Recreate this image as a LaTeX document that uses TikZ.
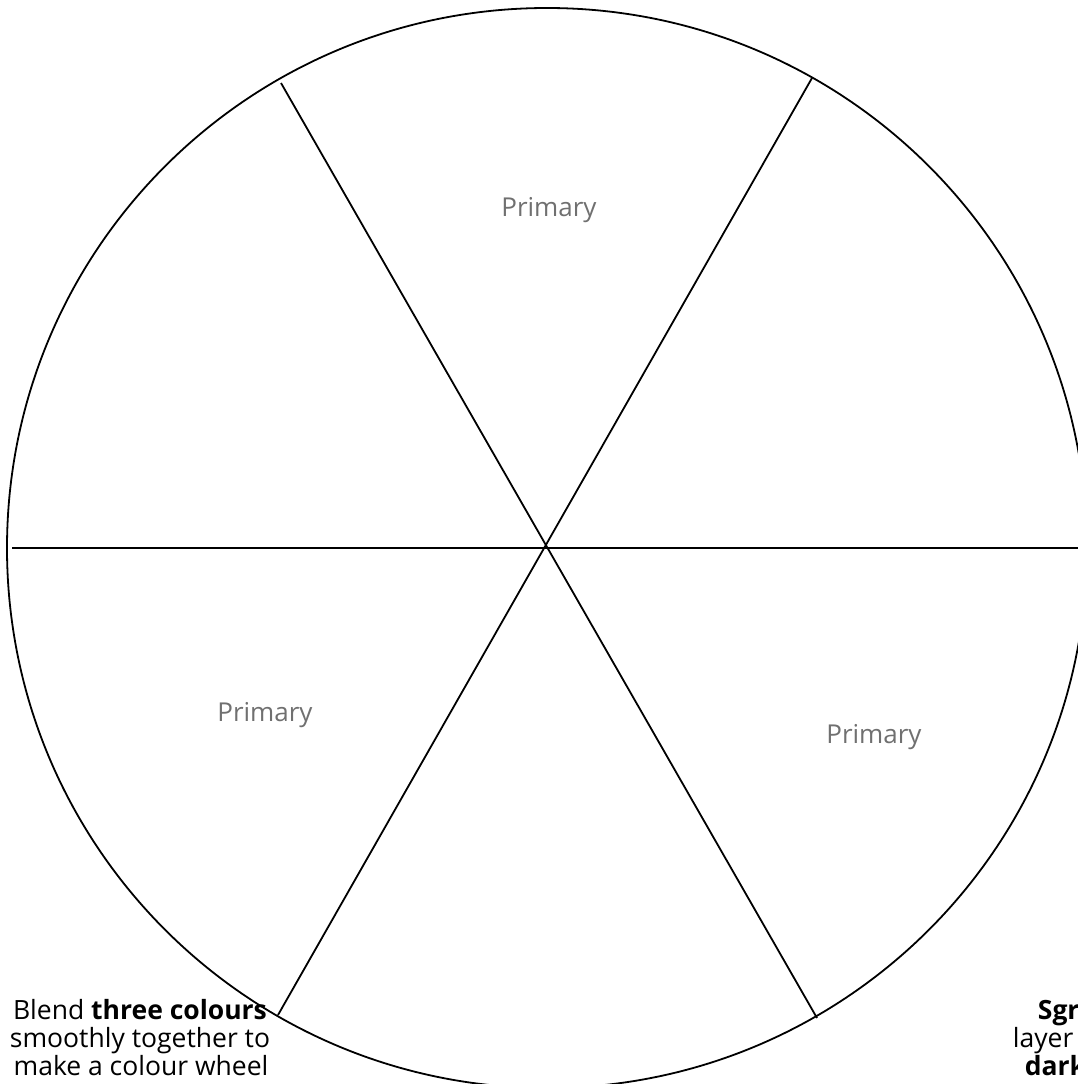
\documentclass[tikz,border=0pt]{standalone}
\usepackage{fontspec}
\setmainfont{Open Sans}
\usetikzlibrary{positioning}

\begin{document}
\begin{tikzpicture}[x=1pt, y=-1pt, line width=1.8pt,
    sector/.style={text=black!56, inner sep=0pt, anchor=base,
        font=\fontsize{26}{30}\selectfont},
    note/.style={inner sep=0pt, font=\fontsize{26.5}{28}\selectfont}]
    \useasboundingbox (0,0) rectangle (1078,1084);
    \clip (0,0) rectangle (1078,1084);
    % wheel
    \coordinate (O) at (547,548);
    \draw (O) circle (540pt);
    \coordinate (W) at (12,548);
    \coordinate (E) at (1090,548);
    \coordinate (NW) at (281,83);
    \coordinate (SE) at (817,1018);
    \coordinate (NE) at (812,78);
    \coordinate (SW) at (278,1015);
    \draw (W) -- (E);
    \draw (NW) -- (SE);
    \draw (NE) -- (SW);
    \node[sector] (top) at (549,216) {Primary};
    \node[sector] (left) at (265,721) {Primary};
    \node[sector] (right) at (874,743) {Primary};
    % notes
    \node[note, anchor=base] (blend1) at (140,1019) {Blend \textbf{three colours}};
    \node[note, anchor=base] (blend2) at (140,1047) {smoothly together to};
    \node[note, anchor=base] (blend3) at (141,1075) {make a colour wheel};
    \node[note, anchor=base west] (sgr1) at (1037,1019) {\textbf{Sgr}};
    \node[note, anchor=base west] (sgr2) at (1012,1047) {layer};
    \node[note, anchor=base west] (sgr3) at (1024,1075) {\textbf{dark}};
\end{tikzpicture}
\end{document}
